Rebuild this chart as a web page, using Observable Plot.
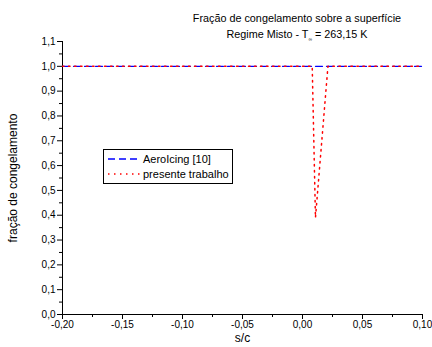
<!DOCTYPE html>
<html>
<head>
<meta charset="utf-8">
<script src="https://cdn.jsdelivr.net/npm/d3@7"></script>
<script src="https://cdn.jsdelivr.net/npm/@observablehq/plot@0.6"></script>
<style>
  body { margin: 0; background: #fff; font-family: "Liberation Sans", Arial, sans-serif; }
  #wrap { position: relative; width: 432px; height: 347px; }
  #title { position: absolute; left: 162px; width: 270px; top: 10px; text-align: center;
           font-size: 10.8px; line-height: 16px; color: #000; }
  #title sub { font-size: 5px; vertical-align: -3px; }
  #legend { position: absolute; left: 103px; top: 149px; border: 1px solid #000; background: #fff;
            padding: 1px 3px 1px 3px; font-size: 11px; color: #000; }
  #legend .row { display: flex; align-items: center; height: 15.5px; white-space: nowrap; }
  #legend svg { margin-right: 2px; }
</style>
</head>
<body>
<div id="wrap">
  <div id="chart"></div>
  <div id="title">Fração de congelamento sobre a superfície<br>Regime Misto - T<sub>∞</sub> = 263,15 K</div>
  <div id="legend"></div>
</div>
<script>
// Series: freezing fraction along the surface (s/c)
const sc_aero   = [-0.20, 0.10];
const frac_aero = [1.0, 1.0];

const sc_pres   = [-0.20, 0.0081, 0.0108, 0.0212, 0.10];
const frac_pres = [1.0, 1.0, 0.39, 1.0, 1.0];

const seriesNames  = ["AeroIcing [10]", "presente trabalho"];
const seriesColors = ["#0000ff", "#ff0000"];
const seriesDash   = ["7,4", "1.5,4.5"];

// Axes
const xDomain = [-0.20, 0.10];
const yDomain = [0, 1.1];
const xTicks = [-0.20, -0.15, -0.10, -0.05, 0.00, 0.05, 0.10];
const xMinor = [-0.175, -0.125, -0.075, -0.025, 0.025, 0.075];
const yTicks = [0, 0.1, 0.2, 0.3, 0.4, 0.5, 0.6, 0.7, 0.8, 0.9, 1.0, 1.1];
const yMinor = [0.05, 0.15, 0.25, 0.35, 0.45, 0.55, 0.65, 0.75, 0.85, 0.95, 1.05];

const aero = sc_aero.map((x, i) => ({x, y: frac_aero[i]}));
const pres = sc_pres.map((x, i) => ({x, y: frac_pres[i]}));

const fmtX = d => d.toFixed(2).replace(".", ",");
const fmtY = d => d.toFixed(1).replace(".", ",");
const blank = () => "";

const chart = Plot.plot({
  width: 432,
  height: 347,
  marginLeft: 62,
  marginRight: 10,
  marginTop: 41,
  marginBottom: 33,
  x: {domain: xDomain},
  y: {domain: yDomain},
  style: {fontFamily: '"Liberation Sans", Arial, sans-serif', fontSize: "10px", color: "#000", background: "transparent"},
  marks: [
    Plot.axisX(xTicks, {tickSize: 5, tickPadding: 1, tickFormat: fmtX, label: null}),
    Plot.axisX(xMinor, {tickSize: 3, tickFormat: blank, label: null}),
    Plot.axisY(yTicks, {tickSize: 5, tickPadding: 2, tickFormat: fmtY, label: null}),
    Plot.axisY(yMinor, {tickSize: 3, tickFormat: blank, label: null}),
    Plot.ruleX([xDomain[0]], {y1: yDomain[0], y2: yDomain[1], stroke: "#000"}),
    Plot.ruleY([yDomain[0]], {x1: xDomain[0], x2: xDomain[1], stroke: "#000"}),
    Plot.line(aero, {x: "x", y: "y", stroke: seriesColors[0], strokeWidth: 1.3, strokeDasharray: seriesDash[0]}),
    Plot.line(pres, {x: "x", y: "y", stroke: seriesColors[1], strokeWidth: 1.5, strokeDasharray: seriesDash[1]}),
    Plot.text(["s/c"], {frameAnchor: "bottom", dy: 27, fontSize: 12, textAnchor: "middle", text: d => d}),
    Plot.text(["fração de congelamento"], {frameAnchor: "left", dx: -49, rotate: -90, fontSize: 12, textAnchor: "middle", text: d => d})
  ]
});
document.getElementById("chart").appendChild(chart);

// Legend box
const legend = document.getElementById("legend");
seriesNames.forEach((name, i) => {
  const row = document.createElement("div");
  row.className = "row";
  row.innerHTML = `<svg width="34" height="10"><line x1="1" x2="33" y1="5" y2="5" stroke="${seriesColors[i]}" stroke-width="1.4" stroke-dasharray="${seriesDash[i]}"/></svg><span>${name}</span>`;
  legend.appendChild(row);
});
</script>
</body>
</html>
